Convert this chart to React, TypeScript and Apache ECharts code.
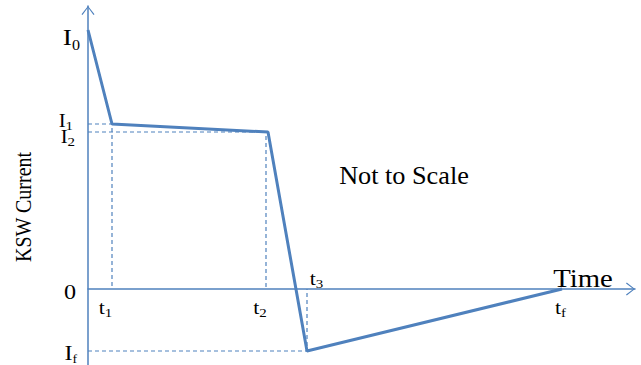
import React, { useEffect, useRef } from 'react';
import * as echarts from 'echarts';

// Schematic profile (arbitrary units, "not to scale")
const profileTime = [0, 24, 180, 219, 474];
const profileCurrent = [259, 165, 157, -62, 0];

// Reference (dashed) levels: t1/I1, t2/I2, t3/If
const refTime = [24, 178, 219];
const refCurrent = [165, 157, -62];

// Axis ranges
const xRange = [0, 547];
const yRange = [-76, 283];

// Tick-like labels
const yLabelBase = ['I', 'I', 'I', '0', 'I'];
const yLabelSub = ['0', '1', '2', '', 'f'];
const yLabelValue = [259, 165, 157, 0, -62];

const xLabelBase = ['t', 't', 't', 't'];
const xLabelSub = ['1', '2', '3', 'f'];
const xLabelValue = [24, 178, 219, 474];

const BLUE = '#4f81bd';
const FONT = 'Liberation Serif';
const CHEVRON = 'path://M0,16.5 L13,0 L26,16.5 L24,18 L13,3.2 L2,18 Z';

// label styling (positions relative to data points, in px)
const yLabelStyle = [
  { dx: -8, dy: 7, big: 24, lh: 30, sub: 14 },
  { dx: -15, dy: -3, big: 18, lh: 22, sub: 13 },
  { dx: -13, dy: 5, big: 18, lh: 22, sub: 13 },
  { dx: -12, dy: 3, big: 21, lh: 26, sub: 13 },
  { dx: -11, dy: 2, big: 21, lh: 24, sub: 12 },
];
const xLabelStyle = [
  { dx: -6.5, dy: 19 },
  { dx: -6, dy: 19 },
  { dx: 9.5, dy: -10 },
  { dx: -1.5, dy: 19 },
];

export default function App() {
  const ref = useRef<HTMLDivElement>(null);
  useEffect(() => {
    if (!ref.current) return;
    const chart = echarts.init(ref.current, null, { renderer: 'svg' });
    const option: any = {
      animation: false,
      grid: { left: 88, right: 6, top: 6, bottom: 0, containLabel: false },
      xAxis: {
        type: 'value',
        min: xRange[0],
        max: xRange[1],
        axisLine: {
          show: true,
          onZero: true,
          lineStyle: { color: BLUE, width: 1.5 },
          symbol: ['none', CHEVRON],
          symbolSize: [14, 9],
          symbolOffset: [0, -4.5],
        },
        axisTick: { show: false },
        axisLabel: { show: false },
        splitLine: { show: false },
      },
      yAxis: {
        type: 'value',
        min: yRange[0],
        max: yRange[1],
        axisLine: {
          show: true,
          onZero: true,
          lineStyle: { color: BLUE, width: 1.5 },
          symbol: ['none', CHEVRON],
          symbolSize: [13, 9],
          symbolOffset: [0, -4.5],
        },
        axisTick: { show: false },
        axisLabel: { show: false },
        splitLine: { show: false },
      },
      series: [
        ...refTime.map((t, i) => ({
          type: 'line',
          data: [
            [0, refCurrent[i]],
            [t, refCurrent[i]],
            [t, 0],
          ],
          symbol: 'none',
          lineStyle: { color: BLUE, width: 1.2, type: [4, 3] },
          z: 1,
        })),
        {
          type: 'line',
          data: profileTime.map((t, i) => [t, profileCurrent[i]]),
          symbol: 'none',
          lineStyle: { color: BLUE, width: 3 },
          z: 3,
        },
      ],
    };
    chart.setOption(option);

    const toPx = (x: number, y: number) => chart.convertToPixel({ gridIndex: 0 }, [x, y]) as number[];
    const graphics: any[] = [];

    yLabelBase.forEach((b, i) => {
      const s = yLabelStyle[i];
      const p = toPx(0, yLabelValue[i]);
      const text = yLabelSub[i] ? `{b|${b}}{s|${yLabelSub[i]}}` : `{b|${b}}`;
      graphics.push({
        type: 'text',
        x: p[0] + s.dx,
        y: p[1] + s.dy,
        scaleX: 1.15,
        silent: true,
        style: {
          text,
          align: 'right',
          verticalAlign: 'middle',
          fill: '#000',
          rich: {
            b: { fontFamily: FONT, fontSize: s.big, lineHeight: s.lh, fill: '#000' },
            s: { fontFamily: FONT, fontSize: s.sub, lineHeight: 14, verticalAlign: 'bottom', fill: '#000' },
          },
        },
      });
    });

    xLabelBase.forEach((b, i) => {
      const s = xLabelStyle[i];
      const p = toPx(xLabelValue[i], 0);
      graphics.push({
        type: 'text',
        x: p[0] + s.dx,
        y: p[1] + s.dy,
        scaleX: 1.15,
        silent: true,
        style: {
          text: `{b|${b}}{s|${xLabelSub[i]}}`,
          align: 'center',
          verticalAlign: 'middle',
          fill: '#000',
          rich: {
            b: { fontFamily: FONT, fontSize: 19, lineHeight: 22, fill: '#000' },
            s: { fontFamily: FONT, fontSize: 13, lineHeight: 14, verticalAlign: 'bottom', fill: '#000' },
          },
        },
      });
    });

    graphics.push(
      {
        type: 'text',
        x: 24,
        y: 207,
        rotation: Math.PI / 2,
        scaleY: 1.12,
        silent: true,
        style: {
          text: 'KSW Current',
          fontFamily: FONT,
          fontSize: 20,
          align: 'center',
          verticalAlign: 'middle',
          fill: '#000',
        },
      },
      {
        type: 'text',
        x: 404,
        y: 176,
        scaleX: 1.05,
        silent: true,
        style: {
          text: 'Not to Scale',
          fontFamily: FONT,
          fontSize: 25,
          align: 'center',
          verticalAlign: 'middle',
          fill: '#000',
        },
      },
      {
        type: 'text',
        x: 583,
        y: 279,
        scaleX: 1.15,
        silent: true,
        style: {
          text: 'Time',
          fontFamily: FONT,
          fontSize: 25,
          align: 'center',
          verticalAlign: 'middle',
          fill: '#000',
        },
      }
    );

    chart.setOption({ graphic: graphics });
    return () => chart.dispose();
  }, []);

  return (
    <div
      ref={ref}
      style={{ position: 'fixed', left: 0, top: 0, width: 641, height: 365, background: '#fff' }}
    />
  );
}
